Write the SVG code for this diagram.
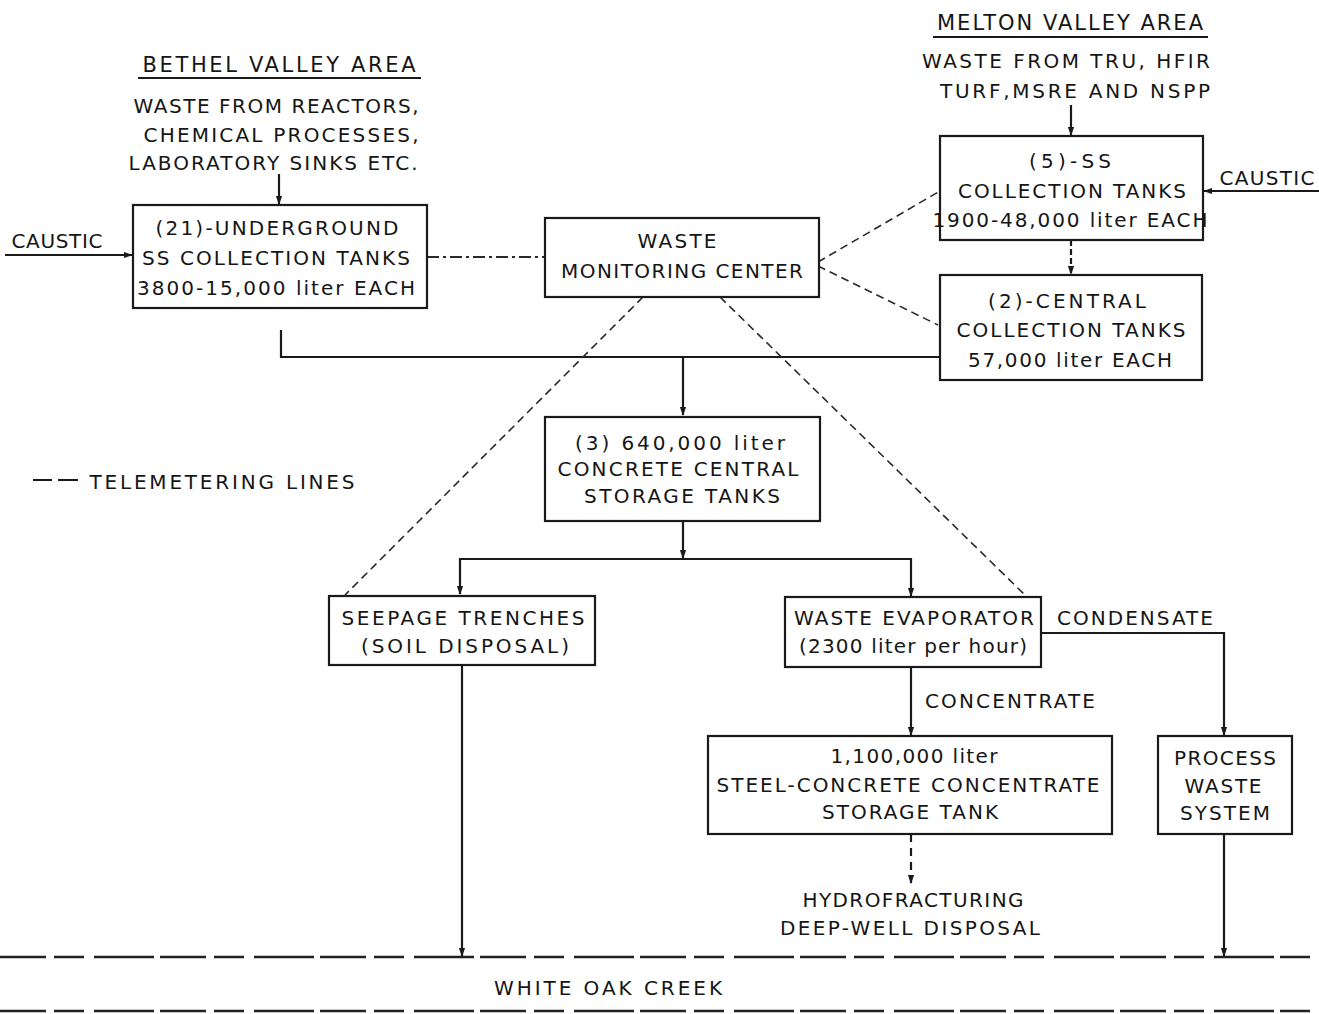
<svg xmlns="http://www.w3.org/2000/svg" width="1319" height="1014" viewBox="0 0 1319 1014">
<style>
text{font-family:"DejaVu Sans","Liberation Sans",Arial,sans-serif;font-size:20px;fill:#151515;text-anchor:middle}
.hd{font-size:21px}
.box{fill:#fff;stroke:#1a1a1a;stroke-width:2.2}
.flow{fill:none;stroke:#1a1a1a;stroke-width:2.2}
.tele{fill:none;stroke:#2a2a2a;stroke-width:1.6;stroke-dasharray:8 5}
.dd{fill:none;stroke:#2a2a2a;stroke-width:1.8;stroke-dasharray:12 4 3 4}
.creek{fill:none;stroke:#222;stroke-width:2.5;stroke-dasharray:46 8 30 10 60 6}
.ul{stroke:#1a1a1a;stroke-width:2.2}
</style>
<defs>
<marker id="ah" viewBox="0 0 10 10" refX="9" refY="5" markerWidth="9" markerHeight="9" markerUnits="userSpaceOnUse" orient="auto">
<path d="M0,1.5 L10,5 L0,8.5 Z" fill="#1a1a1a"/>
</marker>
</defs>
<rect width="1319" height="1014" fill="#fff"/>

<g id="connectors">
<path class="flow" d="M279,174 V204" marker-end="url(#ah)"/>
<path class="flow" d="M5,255 H132" marker-end="url(#ah)"/>
<path class="flow" d="M1071,105 V135" marker-end="url(#ah)"/>
<path class="flow" d="M1319,191 H1204" marker-end="url(#ah)"/>
<path class="flow" d="M1071,240 V274" stroke-dasharray="6 3" marker-end="url(#ah)"/>
<path class="flow" d="M281,330 V357 H940"/>
<path class="flow" d="M683,357 V415" marker-end="url(#ah)"/>
<path class="flow" d="M683,521 V558" marker-end="url(#ah)"/>
<path class="flow" d="M683,559 H460 V594" marker-end="url(#ah)"/>
<path class="flow" d="M683,559 H911 V596" marker-end="url(#ah)"/>
<path class="flow" d="M911,667 V735" marker-end="url(#ah)"/>
<path class="flow" d="M1041,633 H1224 V735" marker-end="url(#ah)"/>
<path class="flow" d="M911,834 V883" stroke-dasharray="8 6" marker-end="url(#ah)"/>
<path class="flow" d="M462,665 V956" marker-end="url(#ah)"/>
<path class="flow" d="M1224,834 V956" marker-end="url(#ah)"/>
<path class="dd" d="M427,257 H545"/>
<path class="tele" d="M818,262 L940,191"/>
<path class="tele" d="M818,266 L938,325"/>
<path class="tele" d="M643,297 L345,595"/>
<path class="tele" d="M720,297 L1027,597"/>
</g>

<g id="bethel-header">
<text class="hd" x="279" y="72" textLength="273" lengthAdjust="spacing">BETHEL VALLEY AREA</text>
<line class="ul" x1="138" y1="78" x2="421" y2="78"/>
<text x="276" y="113" textLength="285" lengthAdjust="spacing">WASTE FROM REACTORS,</text>
<text x="281" y="142" textLength="275" lengthAdjust="spacing">CHEMICAL PROCESSES,</text>
<text x="273" y="170" textLength="289" lengthAdjust="spacing">LABORATORY SINKS ETC.</text>
</g>

<g id="caustic-left">
<text x="57" y="248" textLength="91" lengthAdjust="spacing">CAUSTIC</text>
</g>

<g id="underground-tanks">
<rect class="box" x="133" y="205" width="294" height="103"/>
<text x="277" y="235" textLength="243" lengthAdjust="spacing">(21)-UNDERGROUND</text>
<text x="276" y="265" textLength="268" lengthAdjust="spacing">SS COLLECTION TANKS</text>
<text x="276" y="295" textLength="278" lengthAdjust="spacing">3800-15,000 liter EACH</text>
</g>

<g id="monitoring-center">
<rect class="box" x="545" y="218" width="274" height="79"/>
<text x="677" y="248" textLength="79" lengthAdjust="spacing">WASTE</text>
<text x="682" y="278" textLength="242" lengthAdjust="spacing">MONITORING CENTER</text>
</g>

<g id="melton-header">
<text class="hd" x="1070" y="30" textLength="266" lengthAdjust="spacing">MELTON VALLEY AREA</text>
<line class="ul" x1="933" y1="37" x2="1208" y2="37"/>
<text x="1066" y="68" textLength="288" lengthAdjust="spacing">WASTE FROM TRU, HFIR</text>
<text x="1075" y="98" textLength="270" lengthAdjust="spacing">TURF,MSRE AND NSPP</text>
</g>

<g id="caustic-right">
<text x="1267" y="185" textLength="95" lengthAdjust="spacing">CAUSTIC</text>
</g>

<g id="ss-collection-tanks">
<rect class="box" x="940" y="136" width="263" height="104"/>
<text x="1070" y="168" textLength="82" lengthAdjust="spacing">(5)-SS</text>
<text x="1072" y="198" textLength="228" lengthAdjust="spacing">COLLECTION TANKS</text>
<text x="1070" y="227" textLength="275" lengthAdjust="spacing">1900-48,000 liter EACH</text>
</g>

<g id="central-collection-tanks">
<rect class="box" x="940" y="275" width="262" height="105"/>
<text x="1067" y="308" textLength="158" lengthAdjust="spacing">(2)-CENTRAL</text>
<text x="1071" y="337" textLength="229" lengthAdjust="spacing">COLLECTION TANKS</text>
<text x="1070" y="367" textLength="204" lengthAdjust="spacing">57,000 liter EACH</text>
</g>

<g id="legend">
<line x1="33" y1="480" x2="52" y2="480" stroke="#1a1a1a" stroke-width="2"/>
<line x1="58" y1="480" x2="78" y2="480" stroke="#1a1a1a" stroke-width="2"/>
<text x="222" y="489" textLength="265" lengthAdjust="spacing">TELEMETERING LINES</text>
</g>

<g id="central-storage-tanks">
<rect class="box" x="545" y="417" width="275" height="104"/>
<text x="680" y="450" textLength="210" lengthAdjust="spacing">(3) 640,000 liter</text>
<text x="678" y="476" textLength="241" lengthAdjust="spacing">CONCRETE CENTRAL</text>
<text x="682" y="503" textLength="196" lengthAdjust="spacing">STORAGE TANKS</text>
</g>

<g id="seepage-trenches">
<rect class="box" x="329" y="596" width="266" height="69"/>
<text x="463" y="625" textLength="243" lengthAdjust="spacing">SEEPAGE TRENCHES</text>
<text x="465" y="653" textLength="208" lengthAdjust="spacing">(SOIL DISPOSAL)</text>
</g>

<g id="waste-evaporator">
<rect class="box" x="785" y="597" width="256" height="70"/>
<text x="914" y="625" textLength="240" lengthAdjust="spacing">WASTE EVAPORATOR</text>
<text x="913" y="653" textLength="228" lengthAdjust="spacing">(2300 liter per hour)</text>
</g>

<g id="labels">
<text x="1135" y="625" textLength="156" lengthAdjust="spacing">CONDENSATE</text>
<text x="1010" y="708" textLength="170" lengthAdjust="spacing">CONCENTRATE</text>
</g>

<g id="concentrate-storage-tank">
<rect class="box" x="708" y="736" width="404" height="98"/>
<text x="914" y="763" textLength="167" lengthAdjust="spacing">1,100,000 liter</text>
<text x="908" y="792" textLength="383" lengthAdjust="spacing">STEEL-CONCRETE CONCENTRATE</text>
<text x="910" y="819" textLength="176" lengthAdjust="spacing">STORAGE TANK</text>
</g>

<g id="process-waste-system">
<rect class="box" x="1158" y="736" width="134" height="98"/>
<text x="1225" y="765" textLength="102" lengthAdjust="spacing">PROCESS</text>
<text x="1223" y="793" textLength="77" lengthAdjust="spacing">WASTE</text>
<text x="1225" y="820" textLength="90" lengthAdjust="spacing">SYSTEM</text>
</g>

<g id="hydrofracturing">
<text x="913" y="907" textLength="221" lengthAdjust="spacing">HYDROFRACTURING</text>
<text x="910" y="935" textLength="260" lengthAdjust="spacing">DEEP-WELL DISPOSAL</text>
</g>

<g id="white-oak-creek">
<line class="creek" x1="0" y1="957" x2="1310" y2="957"/>
<text x="608" y="995" textLength="228" lengthAdjust="spacing">WHITE OAK CREEK</text>
<line class="creek" x1="0" y1="1011" x2="1310" y2="1011" stroke-width="3" stroke-dasharray="60 10 40 12 80 8"/>
</g>
</svg>
